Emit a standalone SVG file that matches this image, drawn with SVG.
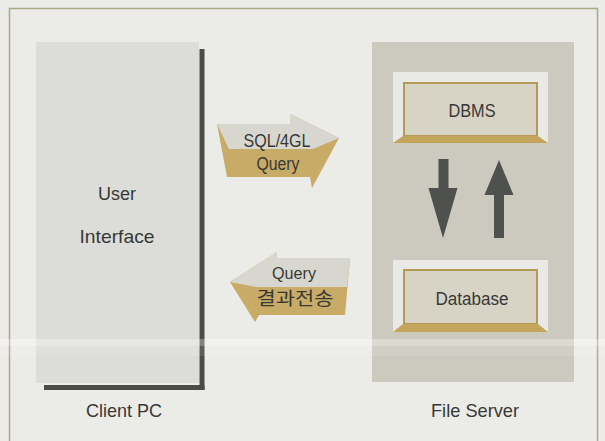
<svg xmlns="http://www.w3.org/2000/svg" width="605" height="441" viewBox="0 0 605 441">
<style>
  .lbl{font-family:"Liberation Sans",Arial,sans-serif;fill:#383836;text-anchor:middle}
  .kr{font-family:"Noto Sans CJK KR","Liberation Sans",sans-serif;fill:#383836;text-anchor:middle}
  .frame{fill:#e9eae5}
  .inner{fill:#d7d4c6;stroke:#b49a55;stroke-width:2}
  .bevel{fill:#c4a55c}
  .tan{fill:#c8ab66}
  .top{fill:#d8d7cf}
  .dark{fill:#4f514f}
</style>
<rect x="0" y="0" width="605" height="441" fill="#ebebe7"/>
<rect x="9.5" y="8.5" width="588" height="440" fill="none" stroke="#aca885" stroke-width="1.5"/>

<g id="client-pc">
  <rect x="36" y="42" width="163" height="341" fill="#dcdcd9"/>
  <rect x="199.5" y="49" width="5" height="341" fill="#4a4b4a"/>
  <rect x="44" y="385" width="160.5" height="5" fill="#4a4b4a"/>
  <text class="lbl" x="117" y="200" font-size="19" textLength="38" lengthAdjust="spacingAndGlyphs">User</text>
  <text class="lbl" x="117" y="243" font-size="19" textLength="75" lengthAdjust="spacingAndGlyphs">Interface</text>
  <text class="lbl" x="124" y="417" font-size="19" textLength="76" lengthAdjust="spacingAndGlyphs">Client PC</text>
</g>

<g id="file-server">
  <rect x="372" y="42" width="202" height="340" fill="#ccc9bf"/>
  <text class="lbl" x="475" y="417" font-size="19" textLength="88" lengthAdjust="spacingAndGlyphs">File Server</text>
</g>

<g id="dbms">
  <rect class="frame" x="393" y="72" width="155" height="71"/>
  <rect class="inner" x="404" y="83" width="133" height="53"/>
  <polygon class="bevel" points="403,136 538,136 548,143 393,143"/>
  <text class="lbl" x="472" y="117" font-size="17.5" textLength="47" lengthAdjust="spacingAndGlyphs">DBMS</text>
</g>

<g id="database">
  <rect class="frame" x="393" y="260" width="155" height="72"/>
  <rect class="inner" x="404" y="270" width="133" height="54"/>
  <polygon class="bevel" points="403,324 538,324 548,332 393,332"/>
  <text class="lbl" x="472" y="305" font-size="17.5" textLength="73" lengthAdjust="spacingAndGlyphs">Database</text>
</g>

<g id="connectors">
  <g id="sql-query-arrow">
    <polygon class="tan" points="217,124 290,124 290,114 339,138 312,188 310,177 227,177"/>
    <polygon class="top" points="217,124 290,124 290,114 339,138 313,149 229,149"/>
    <text class="lbl" x="277" y="147" font-size="18" textLength="67" lengthAdjust="spacingAndGlyphs">SQL/4GL</text>
    <text class="lbl" x="278" y="170" font-size="18" textLength="43" lengthAdjust="spacingAndGlyphs">Query</text>
  </g>
  <g id="result-arrow">
    <polygon class="tan" points="230,282 277,252 277,258 350,258 345,315 259,315 255,322"/>
    <polygon class="top" points="230,282 277,252 277,258 350,258 347,287 256,287"/>
    <text class="lbl" x="294" y="279" font-size="17" textLength="44" lengthAdjust="spacingAndGlyphs">Query</text>
    <text class="kr" x="295" y="305" font-size="18" textLength="77" lengthAdjust="spacingAndGlyphs">결과전송</text>
  </g>
  <polygon id="down-arrow" class="dark" points="438.5,159 448.5,159 448.5,188 457.5,188 443,238 428.5,188 438.5,188"/>
  <polygon id="up-arrow" class="dark" points="499,160 513.5,195 504,195 504,238 494,238 494,195 484.5,195"/>
</g>

<rect x="0" y="339" width="605" height="7" fill="#ffffff" opacity="0.3"/>
<rect x="0" y="346" width="605" height="10" fill="#ffffff" opacity="0.1"/>
</svg>
